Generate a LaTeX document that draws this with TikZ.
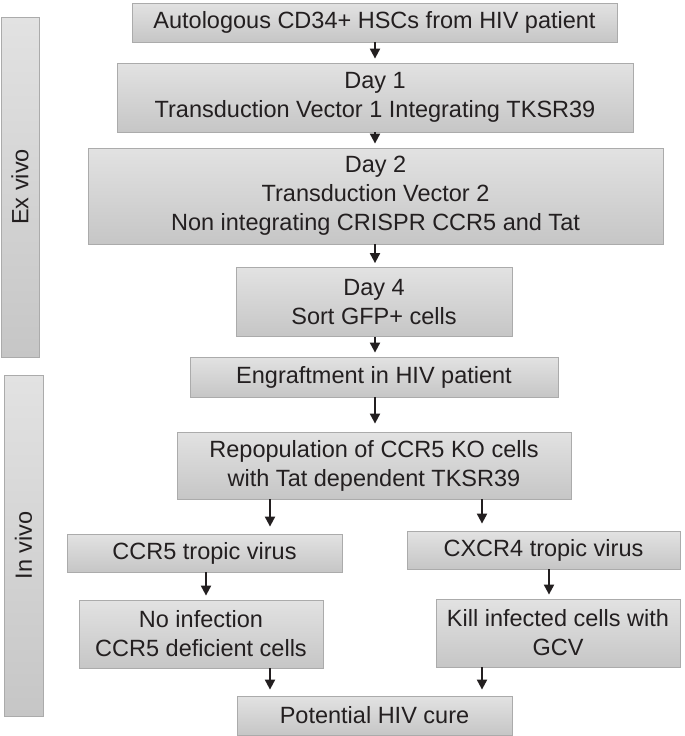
\documentclass[tikz,border=0pt]{standalone}
\usepackage{fontspec}
\setmainfont{Liberation Sans}
\usetikzlibrary{arrows.meta}
\definecolor{boxtop}{HTML}{E2E2E2}
\definecolor{boxbot}{HTML}{C6C6C6}
\definecolor{boxline}{HTML}{ABABAB}
\definecolor{txt}{HTML}{231F20}
\begin{document}
\begin{tikzpicture}[x=1pt,y=-1pt,
  box/.style={draw=boxline, line width=0.8pt, top color=boxtop, bottom color=boxbot,
    inner sep=0pt, align=center, text=txt, font=\fontsize{23.5}{29}\selectfont},
  arr/.style={-{Triangle[width=10pt,length=10pt]}, line width=2pt, draw=txt, shorten >=4pt}]
\useasboundingbox (0,0) rectangle (685,736);
\coordinate (xc) at (375,0);
\coordinate (xl) at (270,0);
\coordinate (xll) at (206,0);
\coordinate (xr) at (482,0);
\coordinate (xrr) at (549,0);

\node[box, rotate=90, minimum width=340pt, minimum height=38pt] (ex) at (20,187) {Ex vivo};
\node[box, rotate=90, minimum width=341pt, minimum height=39pt] (in) at (23.5,545.5) {In vivo};

\node[box, minimum width=485pt, minimum height=39pt] (b1) at (374.5,22.5) {Autologous CD34+ HSCs from HIV patient};
\node[box, minimum width=516pt, minimum height=69pt] (d1) at (375,97.5) {Day 1\\Transduction Vector 1 Integrating TKSR39};
\node[box, minimum width=575pt, minimum height=96pt] (d2) at (375.5,196) {Day 2\\Transduction Vector 2\\Non integrating CRISPR CCR5 and Tat};
\node[box, minimum width=276pt, minimum height=69pt] (d4) at (374,302) {Day 4\\Sort GFP+ cells};
\node[box, minimum width=368pt, minimum height=40pt] (eng) at (374,377) {Engraftment in HIV patient};
\node[box, minimum width=394pt, minimum height=67pt] (rep) at (374,465.5) {Repopulation of CCR5 KO cells\\with Tat dependent TKSR39};
\node[box, minimum width=275pt, minimum height=38pt] (ccr) at (204.5,553) {CCR5 tropic virus};
\node[box, minimum width=244pt, minimum height=68pt] (noi) at (201,634) {No infection\\CCR5 deficient cells};
\node[box, minimum width=273pt, minimum height=38pt] (cxc) at (543.5,550) {CXCR4 tropic virus};
\node[box, minimum width=244pt, minimum height=68pt] (kil) at (558,633) {Kill infected cells with\\GCV};
\node[box, minimum width=275pt, minimum height=39pt] (cure) at (374.5,715.5) {Potential HIV cure};

\draw[arr] (b1.south -| xc) -- (d1.north -| xc);
\draw[arr] (d1.south -| xc) -- (d2.north -| xc);
\draw[arr] (d2.south -| xc) -- (d4.north -| xc);
\draw[arr] (d4.south -| xc) -- (eng.north -| xc);
\draw[arr, shorten >=8pt] (eng.south -| xc) -- (rep.north -| xc);
\draw[arr, shorten >=7pt] (rep.south -| xl) -- (ccr.north -| xl);
\draw[arr, shorten >=7pt] (rep.south -| xr) -- (cxc.north -| xr);
\draw[arr] (ccr.south -| xll) -- (noi.north -| xll);
\draw[arr] (cxc.south -| xrr) -- (kil.north -| xrr);
\draw[arr, shorten >=6pt] (noi.south -| xl) -- (cure.north -| xl);
\draw[arr, shorten >=6pt] (kil.south -| xr) -- (cure.north -| xr);
\end{tikzpicture}
\end{document}
